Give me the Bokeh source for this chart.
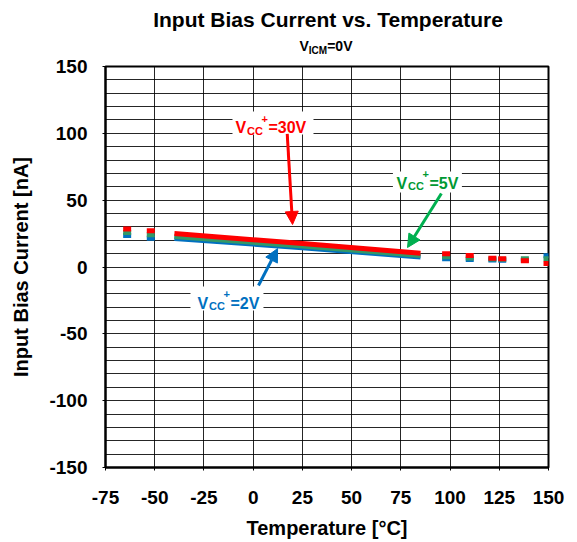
from bokeh.plotting import figure
from bokeh.models import FixedTicker, Label, Arrow, NormalHead, ColumnDataSource, Div
from bokeh.layouts import column
from bokeh.embed import file_html
from bokeh.resources import INLINE

# ---- data ----
x_ticks = [-75, -50, -25, 0, 25, 50, 75, 100, 125, 150]
y_ticks = [-150, -100, -50, 0, 50, 100, 150]
y_grid = list(range(-150, 151, 10))

temps_solid = [-40, 25, 85]
red_solid = [25.0, 17.6, 10.3]
green_solid = [22.8, 15.7, 8.6]
blue_solid = [21.4, 14.4, 7.4]

temps_dash = [-64, -52, 98, 110, 121.5, 126.5, 138, 149.5]
red_dash = [28.4, 27.1, 9.9, 8.6, 6.6, 6.2, 4.6, 2.6]
green_dash = [25.8, 24.1, 7.6, 6.7, 6.0, 5.8, 6.2, 6.1]
blue_dash = [23.6, 21.5, 6.2, 5.6, 5.2, 5.0, 5.0, 8.4]

title_text = "Input Bias Current vs. Temperature"

RED = "#FF0000"
GREEN_LINE = "#339966"
GREEN_TXT = "#009933"
GREEN_ARW = "#00B050"
BLUE = "#0070C0"
FONT = "Liberation Sans"

header = Div(width=577, height=56, margin=0, text=(
    "<div style=\"position:relative;width:577px;height:56px;font-family:'Liberation Sans',Arial,sans-serif;"
    "font-weight:bold;color:black;\">"
    "<div style=\"position:absolute;left:78px;top:9px;width:500px;text-align:center;"
    "font-size:21px;line-height:21px;white-space:nowrap;\">" + title_text + "</div>"
    "<div style=\"position:absolute;left:176px;top:39px;width:300px;text-align:center;"
    "font-size:14px;line-height:14px;white-space:nowrap;\">V<span style=\"font-size:10px;"
    "position:relative;top:3px;\">ICM</span>=0V</div>"
    "</div>"))

p = figure(width=577, height=486, x_range=(-75, 150), y_range=(-150, 150),
           output_backend="svg", toolbar_location=None, margin=0,
           min_border_left=105, min_border_right=29, min_border_top=10, min_border_bottom=75)
p.background_fill_color = "white"
p.border_fill_color = "white"
p.outline_line_color = "black"
p.outline_line_width = 2

# axes
p.xaxis.ticker = FixedTicker(ticks=x_ticks)
p.yaxis.ticker = FixedTicker(ticks=y_ticks)
p.xaxis.major_label_overrides = {t: str(t) for t in x_ticks}
p.yaxis.major_label_overrides = {t: str(t) for t in y_ticks}
for ax in (p.xaxis[0], p.yaxis[0]):
    ax.axis_line_color = "black"
    ax.axis_line_width = 2
    ax.major_tick_out = 3
    ax.major_tick_in = 0
    ax.minor_tick_out = 0
    ax.minor_tick_in = 0
    ax.major_tick_line_color = "black"
    ax.major_label_text_font = FONT
    ax.major_label_text_font_style = "bold"
    ax.major_label_text_font_size = "19px"
    ax.major_label_text_color = "black"
    ax.axis_label_text_font = FONT
    ax.axis_label_text_font_style = "bold"
    ax.axis_label_text_font_size = "20px"
    ax.axis_label_text_color = "black"
p.xaxis.axis_label = "Temperature [°C]"
p.yaxis.axis_label = "Input Bias Current [nA]"
p.xaxis.major_label_standoff = 20
p.xaxis.axis_label_standoff = 10
p.yaxis.major_label_standoff = 15
p.yaxis.axis_label_standoff = 14

# grid
p.xgrid.ticker = FixedTicker(ticks=x_ticks)
p.ygrid.ticker = FixedTicker(ticks=y_grid)
p.xgrid.grid_line_color = "black"
p.ygrid.grid_line_color = "black"
p.xgrid.grid_line_alpha = 0.85
p.ygrid.grid_line_alpha = 0.85
p.xgrid.grid_line_width = 1
p.ygrid.grid_line_width = 1

# data
solid = ColumnDataSource(dict(t=temps_solid, r=red_solid, g=green_solid, b=blue_solid))
dash = ColumnDataSource(dict(t=temps_dash, r=red_dash, g=green_dash, b=blue_dash))
for col, c in (("b", BLUE), ("g", GREEN_LINE), ("r", RED)):
    p.line("t", col, source=solid, line_color=c, line_width=5)
    p.rect("t", col, width=8, height=5, width_units="screen", height_units="screen",
           source=dash, fill_color=c, line_color=None)

# white boxes behind the annotations
p.rect(x=[10.07, 88.5, -13.3], y=[107.7, 63.6, -23.6],
       width=[81, 69, 73], height=[23, 21, 24],
       width_units="screen", height_units="screen",
       fill_color="white", line_color=None)

def rich(x, y, parts, color, align="left"):
    for text, size, dx, dy in parts:
        p.add_layout(Label(x=x, y=y, x_offset=dx, y_offset=dy, text=text,
                           text_font=FONT, text_font_style="bold",
                           text_font_size=f"{size}px", text_color=color,
                           text_baseline="alphabetic", text_align=align))

def vcc(x, y, value, color):
    rich(x, y, [("V", 16, 0, 0), ("CC", 11, 11.5, -3), ("+", 11, 26, 9), (value, 16, 33, 0)], color)

vcc(-9.0, 104.3, "=30V", RED)
vcc(72.8, 62.5, "=5V", GREEN_TXT)
vcc(-28.3, -27.3, "=2V", BLUE)

# arrows
for (xs, ys, xe, ye, c) in ((17.3, 99.6, 20.0, 31.8, RED),
                            (95.6, 55.0, 78.4, 14.6, GREEN_ARW),
                            (2.7, -13.8, 12.4, 13.8, BLUE)):
    p.add_layout(Arrow(end=NormalHead(size=13, fill_color=c, line_color=c, line_width=1),
                       x_start=xs, y_start=ys, x_end=xe, y_end=ye,
                       line_color=c, line_width=3))

layout = column(header, p, spacing=0, margin=0)
open("out.html", "w").write(file_html(layout, INLINE))
